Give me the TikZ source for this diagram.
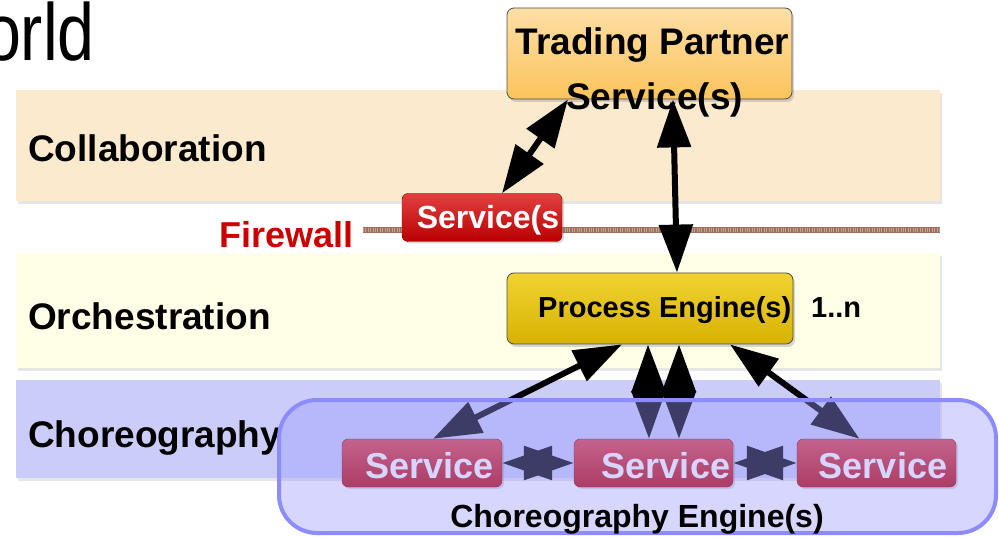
\documentclass[tikz,border=0pt]{standalone}
\usepackage{fontspec}
\setmainfont{Liberation Sans}
\usetikzlibrary{arrows.meta,shadows}
\tikzset{% change default arrow tips
    >={Triangle[length=48pt,width=33pt]}
}
\definecolor{collabfill}{RGB}{252,234,207}
\definecolor{orchfill}{RGB}{255,254,230}
\definecolor{chorfill}{RGB}{204,204,250}
\definecolor{tpfill}{RGB}{252,196,92}
\definecolor{pefill}{RGB}{238,199,0}
\definecolor{fwred}{RGB}{204,0,0}
\definecolor{svcred}{RGB}{217,0,0}
\definecolor{fwbrown}{RGB}{160,112,92}
\definecolor{enginefill}{RGB}{152,152,255}
\definecolor{engineline}{RGB}{140,140,255}
\tikzset{
    band/.style={rectangle, inner sep=0pt, minimum width=924pt, minimum height=#1,
        drop shadow={shadow xshift=2pt, shadow yshift=-3pt, opacity=.2}},
    bandlabel/.style={anchor=base west, inner sep=0pt, font=\fontsize{37}{40}\selectfont\bfseries},
    tpbox/.style={rectangle, rounded corners=7pt, draw=black!70, thick, top color=tpfill!55!white, bottom color=tpfill,
        minimum width=285pt, minimum height=91pt,
        drop shadow={shadow xshift=2pt, shadow yshift=-3pt, opacity=.3}},
    pebox/.style={rectangle, rounded corners=7pt, draw=black!70, thick, top color=pefill!80!white, bottom color=pefill!90!black,
        minimum width=286pt, minimum height=71pt,
        drop shadow={shadow xshift=2pt, shadow yshift=-3pt, opacity=.3}},
    redbox/.style={rectangle, rounded corners=6pt, draw=svcred!60!black, top color=svcred!75!white, bottom color=svcred!85!black,
        minimum width=#1, minimum height=48pt,
        drop shadow={shadow xshift=2pt, shadow yshift=-2pt, opacity=.3}},
    boxtext/.style={anchor=base, inner sep=0pt, font=\fontsize{#1}{#1}\selectfont\bfseries},
    biarrow/.style={<->, line width=6pt},
    svcarrow/.style={{Triangle[length=50pt,width=33pt]}-{Triangle[length=50pt,width=33pt]}, line width=6pt},
    engine/.style={rectangle, rounded corners=38pt, fill=enginefill, fill opacity=.4, draw=engineline, line width=4pt,
        minimum width=717pt, minimum height=133pt}
}

\begin{document}
\begin{tikzpicture}[x=1pt,y=-1pt]
    \useasboundingbox (0,0) rectangle (999,537);

    % title remnant
    \node[anchor=base east, inner sep=0pt, font=\fontsize{81}{81}\selectfont] (title) at (95,61) {\scalebox{0.82}[1]{orld}};

    % bands
    \node[band=111pt, fill=collabfill] (collab) at (478,145.5) {};
    \node[band=115pt, fill=orchfill] (orch) at (478,311) {};
    \node[band=98pt, fill=chorfill] (chor) at (478,429) {};
    \node[bandlabel] (collablabel) at (28,162) {Collaboration};
    \node[bandlabel] (orchlabel) at (28,330) {Orchestration};
    \node[bandlabel] (chorlabel) at (28,447) {Choreography};

    % firewall
    \node[anchor=base west, inner sep=0pt, text=fwred, font=\fontsize{36}{40}\selectfont\bfseries] (firewall) at (219,248) {Firewall};
    \coordinate (fwstart) at (363,230);
    \coordinate (fwend) at (940,230);
    \draw[line width=7pt, white] (fwstart) -- (fwend);
    \draw[line width=5.5pt, fwbrown] (fwstart) -- (fwend);
    \draw[line width=4pt, fwbrown!65!white, dash pattern=on .8pt off 1.6pt] (fwstart) -- (fwend);
    \node[redbox=160pt] (fwsvc) at (482,217.5) {};
    \node[boxtext=32, text=white] (fwsvctext) at (488,229) {Service(s};

    % trading partner
    \node[tpbox] (tp) at (649.5,53.5) {};
    \node[boxtext=37] (tpline1) at (652.5,55) {Trading Partner};
    \node[boxtext=37] (tpline2) at (654.5,110) {Service(s)};

    % process engine
    \node[pebox] (pe) at (650,308.5) {};
    \node[boxtext=29, anchor=base west] (petext) at (538,318) {Process Engine(s)};
    \node[boxtext=29, anchor=base west] (pecount) at (811,318) {1..n};

    % services
    \node[redbox=160pt] (s1) at (422,463) {};
    \node[redbox=159pt] (s2) at (653.5,463) {};
    \node[redbox=159pt] (s3) at (876.5,463) {};
    \node[boxtext=36, text=white] (s1text) at (429.5,478) {Service};
    \node[boxtext=36, text=white] (s2text) at (666,478) {Service};
    \node[boxtext=36, text=white] (s3text) at (883,478) {Service};

    % arrows
    \draw[biarrow] ([xshift=-81.5pt]tp.south) -- ([xshift=20pt]fwsvc.north);
    \draw[biarrow] ([xshift=23.5pt]tp.south) -- ([xshift=27pt]pe.north);
    \draw[biarrow] ([xshift=-28pt]pe.south) -- ([xshift=11pt]s1.north);
    \draw[biarrow] ([xshift=-2pt]pe.south) -- ([xshift=-4.5pt]s2.north);
    \draw[biarrow] ([xshift=29pt]pe.south) -- ([xshift=25.5pt]s2.north);
    \draw[biarrow] ([xshift=80pt]pe.south) -- ([xshift=-17pt]s3.north);
    \draw[svcarrow] (s1.east) -- (s2.west);
    \draw[svcarrow] (s2.east) -- (s3.west);

    % choreography engine
    \node[engine] (engine) at (637.5,466.5) {};
    \node[boxtext=32] (enginetext) at (637,527) {Choreography Engine(s)};
\end{tikzpicture}
\end{document}
